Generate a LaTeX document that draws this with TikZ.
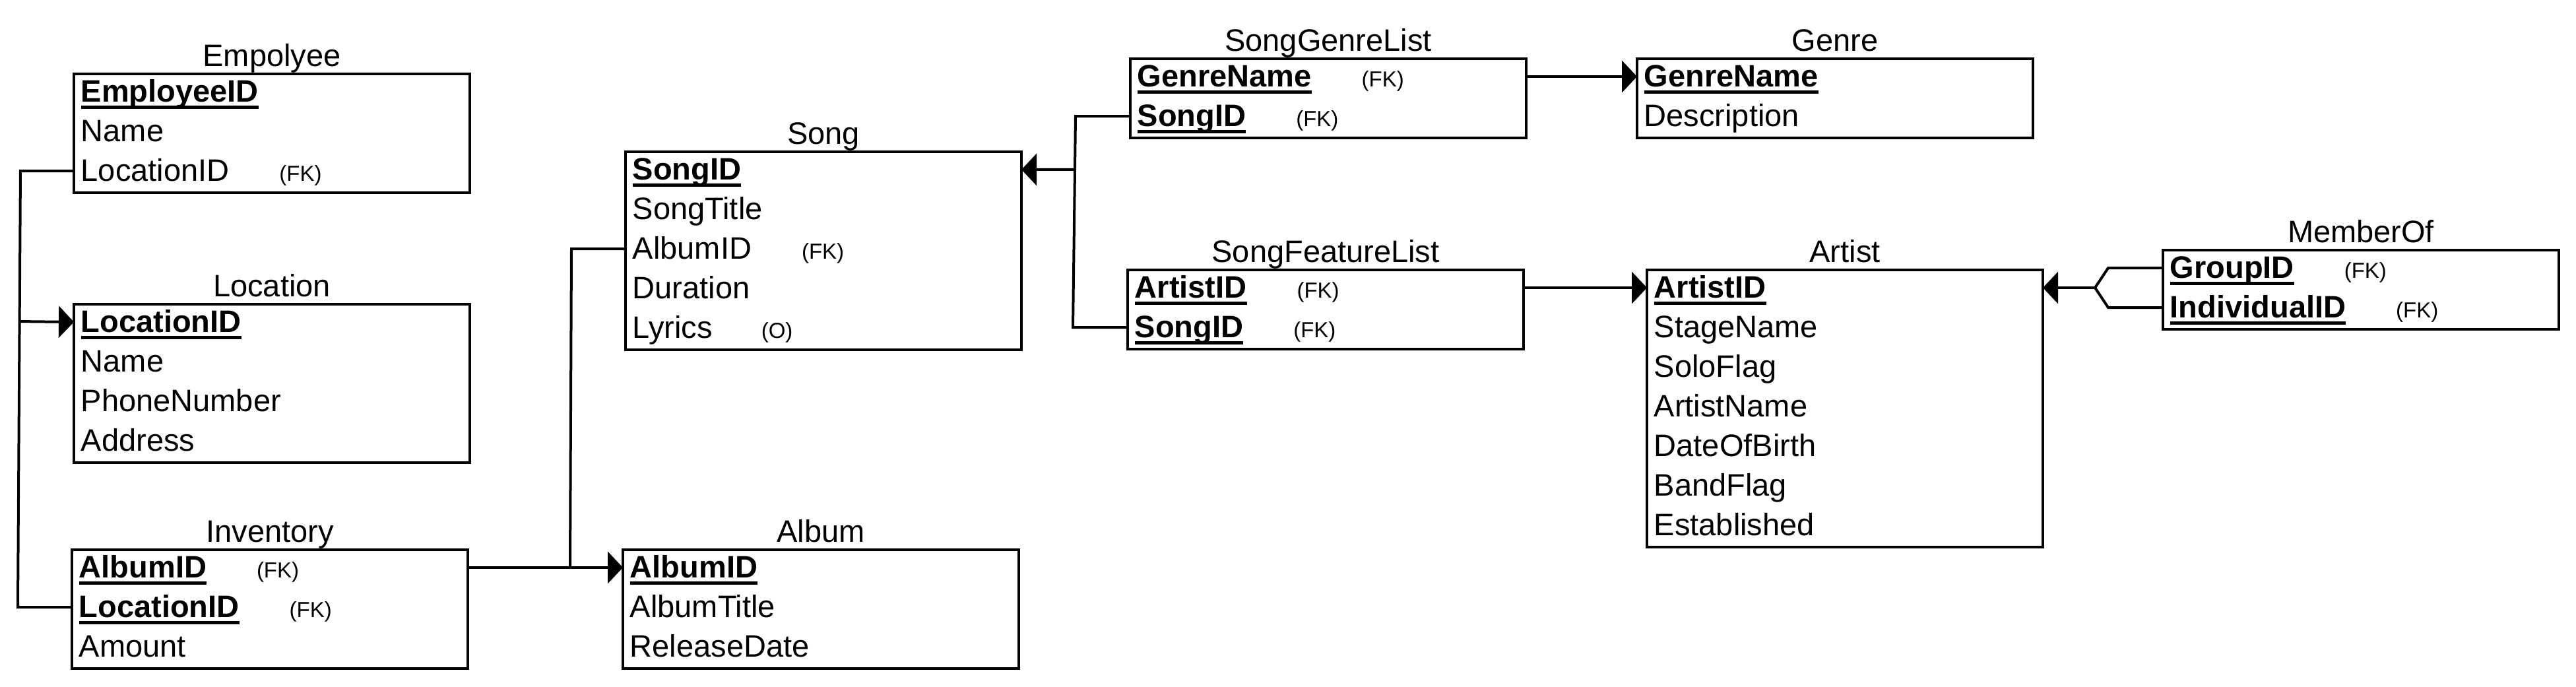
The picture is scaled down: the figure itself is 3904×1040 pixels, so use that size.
\documentclass[tikz,border=0pt]{standalone}
\usepackage{fontspec}
\setmainfont{Liberation Sans}
\usetikzlibrary{arrows.meta,calc}
\newcommand\pkey[1]{\setbox0\hbox{\bfseries #1}\rlap{\rule[-2.75pt]{\wd0}{1.2pt}}\box0}
\newcommand\fkmark{\hspace{19pt}{\fontsize{8.25pt}{10pt}\selectfont (FK)}}
\newcommand\optmark{\hspace{18.5pt}{\fontsize{8.25pt}{10pt}\selectfont (O)}}
\tikzset{
  tblbox/.style={draw, line width=1pt, rectangle, anchor=north west, minimum width=150pt, inner sep=0pt, outer sep=0pt},
  ttl/.style={anchor=base, inner sep=0pt, font=\fontsize{11.75pt}{14pt}\selectfont},
  fld/.style={anchor=base west, inner sep=0pt, font=\fontsize{11.75pt}{14pt}\selectfont},
  conn/.style={line width=1pt},
  tipconn/.style={line width=1pt, -{Triangle[length=5.75pt,width=12pt]}},
}
\newcommand\entity[5]{%
  \node[tblbox, minimum height=15pt*#4] (#1) at (#2,#3) {};
  \node[ttl] (#1-t) at ($(#1.north)+(0,-12)$) {#5};
  \foreach \i in {1,...,#4} {\coordinate (#1-r\i) at ($(#1.north west)+(0,27+60*\i-60)$);}
}
\newcommand\field[3]{\node[fld] (#1-f#2) at ($(#1.north west)+(10,42+60*#2-60)$) {#3};}
\begin{document}
\begin{tikzpicture}[x=0.25pt,y=-0.25pt]
\fill[white] (0,0) rectangle (3904,1040);
\useasboundingbox (0,0) rectangle (3904,1040);

% Empolyee
\entity{emp}{112}{112}{3}{Empolyee}
\field{emp}{1}{\pkey{EmployeeID}}
\field{emp}{2}{Name}
\field{emp}{3}{LocationID\fkmark}

% Location
\entity{loc}{112}{461}{4}{Location}
\field{loc}{1}{\pkey{LocationID}}
\field{loc}{2}{Name}
\field{loc}{3}{PhoneNumber}
\field{loc}{4}{Address}

% Inventory
\entity{inv}{109}{833}{3}{Inventory}
\field{inv}{1}{\pkey{AlbumID}\fkmark}
\field{inv}{2}{\pkey{LocationID}\fkmark}
\field{inv}{3}{Amount}

% Song
\entity{song}{948}{230}{5}{Song}
\field{song}{1}{\pkey{SongID}}
\field{song}{2}{SongTitle}
\field{song}{3}{AlbumID\fkmark}
\field{song}{4}{Duration}
\field{song}{5}{Lyrics\optmark}

% Album
\entity{alb}{944}{833}{3}{Album}
\field{alb}{1}{\pkey{AlbumID}}
\field{alb}{2}{AlbumTitle}
\field{alb}{3}{ReleaseDate}

% SongGenreList
\entity{sgl}{1713}{89}{2}{SongGenreList}
\field{sgl}{1}{\pkey{GenreName}\fkmark}
\field{sgl}{2}{\pkey{SongID}\fkmark}

% Genre
\entity{gen}{2481}{89}{2}{Genre}
\field{gen}{1}{\pkey{GenreName}}
\field{gen}{2}{Description}

% SongFeatureList
\entity{sfl}{1709}{409}{2}{SongFeatureList}
\field{sfl}{1}{\pkey{ArtistID}\fkmark}
\field{sfl}{2}{\pkey{SongID}\fkmark}

% Artist
\entity{art}{2496}{409}{7}{Artist}
\field{art}{1}{\pkey{ArtistID}}
\field{art}{2}{StageName}
\field{art}{3}{SoloFlag}
\field{art}{4}{ArtistName}
\field{art}{5}{DateOfBirth}
\field{art}{6}{BandFlag}
\field{art}{7}{Established}

% MemberOf
\entity{mem}{3278}{379}{2}{MemberOf}
\field{mem}{1}{\pkey{GroupID}\fkmark}
\field{mem}{2}{\pkey{IndividualID}\fkmark}

% connectors
\coordinate (j1) at (31,259);
\coordinate (j2) at (27,920);
\draw[conn] (emp-r3) -- (j1) -- (j2) -- (inv-r2);
\coordinate (j3) at ($(j1)!0.345!(j2)$);
\draw[tipconn] (j3) -- (loc-r1);

\draw[tipconn] (inv.east |- inv-r1) -- (alb-r1);
\coordinate (j4) at (866,377);
\coordinate (j5) at (864,860);
\draw[conn] (song-r3) -- (j4) -- (j5);

\coordinate (j6) at (1630,176);
\coordinate (j7) at (1626,496);
\draw[conn] (sgl-r2) -- (j6) -- (j7) -- (sfl-r2);
\coordinate (j8) at ($(j6)!0.253!(j7)$);
\draw[tipconn] (j8) -- (song.east |- song-r1);

\draw[tipconn] (sgl.east |- sgl-r1) -- (gen-r1);
\draw[tipconn] (sfl.east |- sfl-r1) -- (art-r1);

\coordinate (k1) at (3195,406);
\coordinate (k0) at (3175,436);
\coordinate (k2) at (3195,466);
\draw[conn, line join=miter] (mem-r1) -- (k1) -- (k0) -- (k2) -- (mem-r2);
\draw[tipconn] (k0) -- (art.east |- art-r1);
\end{tikzpicture}
\end{document}
